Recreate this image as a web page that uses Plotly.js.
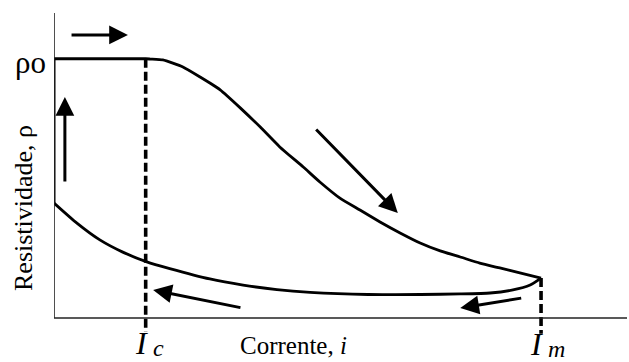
<!DOCTYPE html>
<html>
<head>
<meta charset="utf-8">
<script src="https://cdn.plot.ly/plotly-3.0.1.min.js"></script>
<style>
  html, body { margin: 0; padding: 0; background: #ffffff; }
  #chart { width: 629px; height: 362px; }
</style>
</head>
<body>
<div id="chart"></div>
<script>
// Resistivity vs. current loop (arbitrary units)
const rho0 = 8.5;     // normal-state resistivity
const iC = 1.6;       // critical current
const iM = 8.5;       // maximum current

// rising branch: current increases from 0 to I_m
const currentUp = [0, 1.6, 1.68, 1.90, 2.25, 2.55, 2.90, 3.25, 3.60, 3.94, 4.35, 4.64, 4.99, 5.34, 5.69, 6.04, 6.39, 6.74, 7.09, 7.43, 7.78, 8.13, 8.5];
const rhoUp     = [8.5, 8.5, 8.49, 8.46, 8.23, 7.90, 7.48, 6.89, 6.26, 5.61, 4.95, 4.46, 3.93, 3.54, 3.15, 2.79, 2.46, 2.20, 2.00, 1.80, 1.64, 1.48, 1.31];

// falling branch: current decreases from I_m back to 0
const currentDown = [8.5, 8.31, 8.01, 7.61, 7.09, 6.4, 5.48, 4.47, 3.89, 3.30, 2.72, 2.02, 1.62, 1.20, 0.80, 0.40, 0];
const rhoDown     = [1.31, 1.08, 0.92, 0.82, 0.79, 0.77, 0.77, 0.84, 0.93, 1.08, 1.28, 1.62, 1.84, 2.16, 2.56, 3.11, 3.77];

// return to rho0 at zero current
const currentReset = [0, 0];
const rhoReset     = [3.77, 8.5];

const black = '#000000';
const serif = 'Liberation Serif, Times New Roman, serif';

const traces = [
  { x: currentUp, y: rhoUp, mode: 'lines', line: { color: black, width: 2.8, shape: 'spline', smoothing: 0.5 } },
  { x: currentDown, y: rhoDown, mode: 'lines', line: { color: black, width: 2.8, shape: 'spline', smoothing: 0.5 } },
  { x: currentReset, y: rhoReset, mode: 'lines', line: { color: black, width: 3 } },
  // dashed markers of I_c and I_m
  { x: [iC, iC], y: [rho0, -0.46], mode: 'lines', line: { color: black, width: 3.6, dash: '9px,4px' } },
  { x: [iM, iM], y: [rhoUp[rhoUp.length - 1], -0.52], mode: 'lines', line: { color: black, width: 3.6, dash: '9px,4px' } }
];

function arrow(tail, head) {
  return {
    x: head[0], y: head[1], ax: tail[0], ay: tail[1],
    xref: 'x', yref: 'y', axref: 'x', ayref: 'y',
    showarrow: true, arrowhead: 2, arrowsize: 1.25, arrowwidth: 3,
    arrowcolor: black, standoff: 0, startstandoff: 0, text: ''
  };
}

// labels are placed in paper space (pixel offsets inside the 629x362 canvas)
const plotLeft = 54, plotTop = 13, plotW = 573, plotH = 327;
function label(text, px, py, size, extra) {
  return Object.assign({
    x: (px - plotLeft) / plotW, y: (plotTop + plotH - py) / plotH,
    xref: 'paper', yref: 'paper', text: text, showarrow: false,
    font: { family: serif, size: size, color: black },
    xanchor: 'center', yanchor: 'middle'
  }, extra || {});
}

const annotations = [
  arrow([0.28, 9.28], [1.29, 9.28]),
  arrow([0.19, 4.43], [0.19, 7.25]),
  arrow([4.55, 6.23], [6.00, 3.44]),
  arrow([3.28, 0.33], [1.73, 0.92]),
  arrow([8.18, 0.66], [7.09, 0.33]),
  label('ρo', 30, 62, 31),
  label('Resistividade, ρ', 23, 208, 26, { textangle: -90 }),
  label('Corrente, <i>i</i>', 293, 346, 25),
  label('<i>I</i>', 141, 343, 32),
  label('<i>c</i>', 158, 348, 24),
  label('<i>I</i>', 536, 344, 32),
  label('<i>m</i>', 556, 349, 24)
];

const shapes = [
  // axes
  { type: 'line', xref: 'x', yref: 'y', x0: 0, x1: 0, y0: 0, y1: 10, line: { color: '#222222', width: 1.6 } },
  { type: 'line', xref: 'x', yref: 'y', x0: 0, x1: 10.05, y0: 0, y1: 0, line: { color: '#222222', width: 1.6 } }
];

const layout = {
  width: 629, height: 362,
  margin: { l: 54, r: 2, t: 13, b: 22 },
  paper_bgcolor: '#ffffff', plot_bgcolor: '#ffffff',
  showlegend: false,
  xaxis: { range: [0, 10], visible: false, fixedrange: true },
  yaxis: { range: [-0.7213, 10], visible: false, fixedrange: true },
  annotations: annotations,
  shapes: shapes
};

Plotly.newPlot('chart', traces, layout, { displayModeBar: false, staticPlot: true });
</script>
</body>
</html>
